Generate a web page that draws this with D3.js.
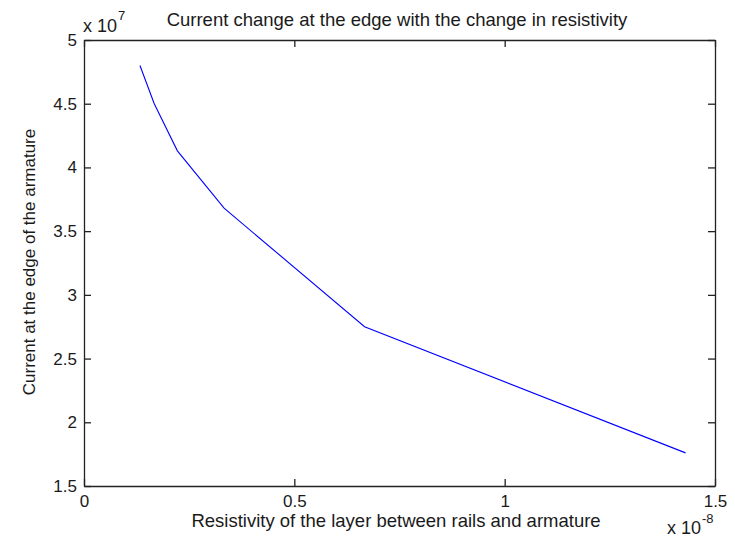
<!DOCTYPE html>
<html>
<head>
<meta charset="utf-8">
<script src="https://cdn.jsdelivr.net/npm/d3@7"></script>
<style>
  body { margin: 0; background: #fff; }
  text { font-family: "Liberation Sans", Arial, sans-serif; fill: #1a1a1a; }
</style>
</head>
<body>
<div id="chart"></div>
<script>
// resistivity (x 1e-8) and current at the edge (x 1e7)
const resistivity = [0.133, 0.167, 0.222, 0.333, 0.667, 1.43];
const edgeCurrent = [4.80, 4.50, 4.13, 3.68, 2.75, 1.76];
const xTicks = [0, 0.5, 1, 1.5];
const yTicks = [1.5, 2, 2.5, 3, 3.5, 4, 4.5, 5];

const width = 735, height = 538;
const margin = {top: 40, right: 20, bottom: 52, left: 84};

const svg = d3.select("#chart")
    .append("svg")
        .attr("width", width)
        .attr("height", height);

const x = d3.scaleLinear()
    .domain([0, 1.5])
    .range([margin.left, width - margin.right]);
const y = d3.scaleLinear()
    .domain([1.5, 5])
    .range([height - margin.bottom, margin.top]);

const tickLen = 7;

// bottom axis, ticks pointing in
svg.append("g")
    .attr("transform", `translate(0,${height - margin.bottom})`)
    .call(d3.axisBottom(x).tickValues(xTicks).tickFormat(d3.format("")).tickSizeInner(-tickLen).tickSizeOuter(0).tickPadding(tickLen + 2))
    .call(g => g.selectAll("text").style("font-size", "17px"));
// top axis
svg.append("g")
    .attr("transform", `translate(0,${margin.top})`)
    .call(d3.axisTop(x).tickValues(xTicks).tickFormat("").tickSizeInner(-tickLen).tickSizeOuter(0));
// left axis
svg.append("g")
    .attr("transform", `translate(${margin.left},0)`)
    .call(d3.axisLeft(y).tickValues(yTicks).tickFormat(d3.format("")).tickSizeInner(-tickLen).tickSizeOuter(0).tickPadding(7))
    .call(g => g.selectAll("text").style("font-size", "17px"));
// right axis
svg.append("g")
    .attr("transform", `translate(${width - margin.right},0)`)
    .call(d3.axisRight(y).tickValues(yTicks).tickFormat("").tickSizeInner(-tickLen).tickSizeOuter(0));

svg.selectAll(".domain, .tick line").attr("stroke", "#222").attr("stroke-width", 1.3);

// data line
const pts = resistivity.map((r, i) => [r, edgeCurrent[i]]);
svg.append("path")
    .attr("fill", "none")
    .attr("stroke", "#0000ff")
    .attr("stroke-width", 1.1)
    .attr("d", d3.line().x(d => x(d[0])).y(d => y(d[1]))(pts));

// title and labels
svg.append("text")
    .attr("x", 397)
    .attr("y", 26)
    .attr("text-anchor", "middle")
    .style("font-size", "18.5px")
    .text("Current change at the edge with the change in resistivity");

svg.append("text")
    .attr("x", 396)
    .attr("y", 527)
    .attr("text-anchor", "middle")
    .style("font-size", "18.5px")
    .text("Resistivity of the layer between rails and armature");

svg.append("text")
    .attr("transform", `translate(35,262) rotate(-90)`)
    .attr("text-anchor", "middle")
    .style("font-size", "17px")
    .text("Current at the edge of the armature");

// exponent multipliers
const yExp = svg.append("text").attr("x", 83).attr("y", 32).style("font-size", "18px");
yExp.append("tspan").text("x 10");
yExp.append("tspan").attr("dx", 1).attr("dy", -12).style("font-size", "13px").text("7");

const xExp = svg.append("text").attr("x", 667).attr("y", 534).style("font-size", "18px");
xExp.append("tspan").text("x 10");
xExp.append("tspan").attr("dx", 1).attr("dy", -11).style("font-size", "13px").text("-8");
</script>
</body>
</html>
